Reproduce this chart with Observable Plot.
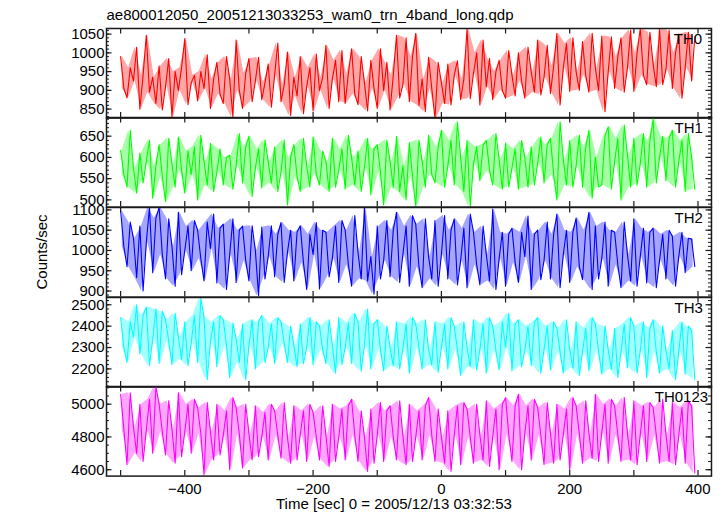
<!DOCTYPE html>
<html><head><meta charset="utf-8">
<script src="https://cdn.jsdelivr.net/npm/d3@7"></script>
<script src="https://cdn.jsdelivr.net/npm/@observablehq/plot@0.6"></script>
<style>
body{margin:0;background:#fff;}
#chart{position:relative;width:724px;height:516px;overflow:hidden;}
#chart svg{position:absolute;left:0;}
</style></head><body>
<div id="chart"></div>
<script>
// ---- data ----
const bands = ["TH0", "TH1", "TH2", "TH3", "TH0123"];
const colors = ["#ff0000", "#00ff00", "#0000ff", "#00ffff", "#ff00ff"];
const times = d3.range(-500, 400, 5); // 5-s samples, time [sec]
const xTicks = [-500, -400, -300, -200, -100, 0, 100, 200, 300, 400];
const xLabels = [-400, -200, 0, 200, 400];

const th0 = [990,905, 880,960, 925,1015, 850,940, 1047,895, 935,865, 965,848, 910,985, 829,950, 900,960,
  1038,862, 920,940, 872,950, 905,995, 852,930, 975,890, 865,990, 930,829, 1034,900, 852,945,
  985,870, 925,988, 875,920, 970,855, 940,1026, 870,915, 1002,833, 935,885, 990,838, 910,960,
  845,997, 900,935, 1020,852, 930,980, 870,1006, 865,945, 1011,890, 862,990, 920,845, 980,905,
  852,1011, 900,975, 848,940, 1047,880, 915,1040, 870,990, 1052,860, 930,843, 988,905, 825,975,
  920,865, 970,861, 940,979, 875,930, 1065,878, 945,1000, 861,1034, 910,985, 875,950, 980,900,
  879,1006, 940,885, 1000,925, 879,1015, 950,895, 1034,888, 935,1020, 892,965, 1052,861, 960,1025,
  897,1040, 950,900, 1030,940, 895,1052, 960,900, 1045,843, 950,1043, 905,990, 1040,895, 960,1061,
  897,1000, 1065,940, 915,1055, 970,910, 1065,915, 955,1060, 905,1000, 1050,879, 960,1055, 925,1043];
const th1 = [617,560, 530,664, 575,516, 610,540, 590,641, 504,580, 630,555, 496,645, 585,530, 648,570,
  516,615, 560,625, 500,652, 590,535, 633,520, 565,620, 535,600, 605,525, 580,656, 540,625,
  650,508, 575,620, 528,641, 590,540, 625,520, 565,641, 488,600, 630,555, 520,645, 580,530,
  648,560, 535,615, 590,520, 645,530, 570,620, 525,652, 600,535, 615,520, 575,645, 512,620,
  630,565, 488,641, 590,530, 650,520, 580,500, 635,555, 484,641, 590,530, 652,560, 540,625,
  664,530, 580,640, 535,684, 600,520, 640,484, 585,625, 545,629, 640,570, 535,656, 595,525,
  633,530, 575,620, 525,640, 600,530, 625,535, 585,648, 540,630, 645,560, 500,684, 595,535,
  640,530, 580,652, 530,625, 664,504, 600,530, 535,650, 672,525, 590,645, 500,676, 605,530,
  645,535, 585,656, 530,640, 691,540, 600,650, 545,645, 664,530, 590,640, 520,656, 600,525];
const th2 = [1098,1010, 960,1070, 1030,933, 1060,900, 1020,1106, 945,1080, 1106,990, 930,1078, 1010,912, 1094,940,
  1000,1060, 950,1074, 1050,980, 925,1070, 1005,1090, 920,1055, 1065,904, 990,1078, 921,1050, 1060,975,
  925,1061, 1000,888, 1058,930, 985,1061, 935,1040, 1069,921, 995,1050, 925,1045, 1061,970, 904,1040,
  990,1069, 905,1050, 1045,935, 980,1060, 921,1074, 1050,965, 912,1086, 995,930, 1106,925, 985,892,
  1060,930, 975,1074, 935,1050, 1094,921, 990,1060, 912,1086, 1065,960, 908,1078, 985,930, 1074,912,
  990,1086, 930,1050, 1078,915, 975,1055, 908,1090, 1045,965, 915,1060, 990,925, 1102,904, 980,1045,
  912,1040, 1055,970, 921,1045, 985,1085, 904,1040, 1050,928, 975,1070, 930,1040, 1090,908, 990,1050,
  921,1045, 1080,960, 928,1050, 1094,904, 1060,930, 980,1070, 912,1050, 1045,965, 908,1070, 990,925,
  1078,912, 985,1055, 920,1045, 1055,908, 975,1040, 930,1050, 1035,912, 985,1045, 945,1030, 1028,960];
const th3 = [2440,2300, 2230,2420, 2350,2500, 2270,2450, 2490,2215, 2340,2480, 2225,2470, 2430,2330, 2220,2460, 2350,2245,
  2420,2215, 2320,2450, 2230,2530, 2440,2150, 2330,2420, 2210,2450, 2430,2310, 2160,2415, 2340,2230, 2410,2150,
  2310,2430, 2200,2420, 2450,2230, 2300,2410, 2225,2440, 2420,2320, 2230,2400, 2310,2210, 2410,2225, 2300,2440,
  2220,2420, 2400,2290, 2225,2430, 2310,2180, 2440,2220, 2300,2415, 2225,2460, 2420,2190, 2310,2480, 2200,2410,
  2430,2290, 2190,2400, 2300,2215, 2420,2200, 2295,2410, 2180,2440, 2410,2300, 2200,2430, 2290,2220, 2420,2185,
  2300,2410, 2200,2440, 2400,2290, 2170,2420, 2300,2210, 2430,2195, 2290,2410, 2180,2440, 2400,2285, 2195,2420,
  2300,2460, 2190,2410, 2430,2210, 2285,2400, 2215,2420, 2440,2180, 2290,2400, 2195,2420, 2390,2280, 2180,2430,
  2290,2205, 2420,2170, 2280,2390, 2190,2440, 2410,2285, 2175,2400, 2290,2200, 2390,2160, 2280,2410, 2205,2440,
  2400,2180, 2285,2420, 2160,2390, 2430,2280, 2180,2400, 2285,2200, 2380,2150, 2280,2420, 2175,2400, 2380,2150];
const th0123 = [5060,4850, 4630,5070, 4860,4700, 5000,4650, 4840,5030, 4700,5108, 5000,4830, 4690,5020, 4850,4640, 5070,4680,
  4830,5000, 4700,5030, 4980,4820, 4570,5010, 4830,4660, 5000,4690, 4810,4960, 4600,5040, 4980,4820, 4610,5000,
  4820,4660, 4990,4680, 4800,4950, 4660,5000, 4960,4810, 4670,5010, 4800,4640, 4990,4660, 4815,4960, 4650,5000,
  4950,4800, 4660,4990, 4810,4620, 5000,4650, 4800,4970, 4660,4990, 5030,4810, 4650,4960, 4800,4590, 4970,4640,
  4810,5010, 4650,4960, 4990,4800, 4660,5020, 4805,4630, 5000,4650, 4800,4960, 4660,4990, 5040,4810, 4650,4970,
  4800,4640, 4960,4590, 4810,4990, 4630,5010, 4970,4800, 4640,5000, 4810,4660, 5020,4620, 4800,4970, 4600,5000,
  5040,4815, 4650,4990, 5060,4600, 4820,4990, 4660,5030, 4980,4810, 4630,5010, 4820,4640, 5000,4660, 4815,4970,
  4600,5040, 4990,4820, 4640,5020, 4820,4670, 5060,4650, 4825,5000, 4640,5030, 4990,4815, 4650,5040, 4820,4660,
  5020,4630, 4815,4990, 4650,5010, 4980,4810, 4640,5030, 4815,4650, 5010,4630, 4810,4980, 4640,5020, 4990,4580];

const yDomains = [[826, 1065], [483, 694], [885, 1106], [2115, 2534], [4561, 5108]];
const yMajor = [[850,900,950,1000,1050], [500,550,600,650], [900,950,1000,1050,1100], [2200,2300,2400,2500], [4600,4800,5000]];
const yMinorStep = [10, 10, 10, 20, 50];
const series = [th0, th1, th2, th3, th0123];

// ---- layout ----
const FONT = "'Liberation Sans', Arial, Helvetica, sans-serif";
const W = 724, ML = 106, MR = 13, TOP = 27.7, PH = 89.6, PAD = 10;
const FW = W - ML - MR;
const labelLeft = [673.3, 674, 674, 674, 654.3];
const ink = "#1a1a1a";
const chart = document.getElementById("chart");

bands.forEach((name, i) => {
  const vals = series[i];
  const rows = times.map((t, k) => ({t, v: vals[k]}));
  // light envelope over each 10-s pair of samples
  const env = d3.range(0, times.length, 2).map(k => ({
    t: times[k] + 2.5,
    lo: Math.min(vals[k], vals[k + 1]),
    hi: Math.max(vals[k], vals[k + 1])
  }));
  const [y0, y1] = yDomains[i];
  const step = yMinorStep[i];
  const minor = d3.range(Math.ceil(y0 / step) * step, y1, step);
  const last = i === bands.length - 1;
  const mb = last ? 45 : PAD;
  const svg = Plot.plot({
    width: W, height: PH + PAD + mb,
    marginLeft: ML, marginRight: MR, marginTop: PAD, marginBottom: mb,
    x: {domain: [-522, 421], axis: null},
    y: {domain: yDomains[i], axis: null},
    style: {fontFamily: FONT, fontSize: "15px", background: "transparent", color: "#000"},
    marks: [
      Plot.areaY(env, {x: "t", y1: "lo", y2: "hi", fill: colors[i], fillOpacity: 0.35, clip: true}),
      Plot.line(rows, {x: "t", y: "v", stroke: colors[i], strokeWidth: 1.1, clip: true}),
      Plot.tickY(minor, {y: d => d, insetRight: FW - 3, stroke: ink, strokeWidth: 1}),
      Plot.tickY(yMajor[i], {y: d => d, insetRight: FW - 5.5, stroke: ink, strokeWidth: 1.2}),
      Plot.tickY(minor, {y: d => d, insetLeft: FW - 3, stroke: ink, strokeWidth: 1}),
      Plot.tickY(yMajor[i], {y: d => d, insetLeft: FW - 5.5, stroke: ink, strokeWidth: 1.2}),
      Plot.ruleX(xTicks, {x: d => d, insetBottom: PH - 5.5, stroke: ink, strokeWidth: 1.2}),
      Plot.ruleX(xTicks, {x: d => d, insetTop: PH - 5.5, stroke: ink, strokeWidth: 1.2}),
      Plot.axisY({anchor: "left", ticks: yMajor[i], tickSize: 0, tickPadding: 2, tickFormat: "d", label: null, fontSize: 15}),
      last ? Plot.axisX({anchor: "bottom", ticks: xLabels, tickSize: 0, tickPadding: 7, tickFormat: "d", label: null, fontSize: 15}) : null,
      Plot.frame({stroke: ink, strokeWidth: 1.5}),
      Plot.text([name], {text: d => d, frameAnchor: "top-left", dx: labelLeft[i] - ML, dy: 5, lineAnchor: "top", textAnchor: "start", fontSize: 15, fill: "#000"})
    ]
  });
  svg.style.top = (TOP + i * PH - PAD) + "px";
  chart.appendChild(svg);
});

// overlay texts
const ov = d3.select(chart).append("svg")
  .attr("width", W).attr("height", 516)
  .style("top", "0px").style("pointer-events", "none")
  .style("font-family", FONT).style("font-size", "15px");
ov.append("text").attr("x", 106.5).attr("y", 20).text("ae800012050_20051213033253_wam0_trn_4band_long.qdp");
ov.append("text").attr("transform", "translate(47,252) rotate(-90)").attr("text-anchor", "middle").text("Counts/sec");
ov.append("text").attr("x", 276).attr("y", 509).text("Time [sec] 0 = 2005/12/13 03:32:53");
</script>
</body></html>
